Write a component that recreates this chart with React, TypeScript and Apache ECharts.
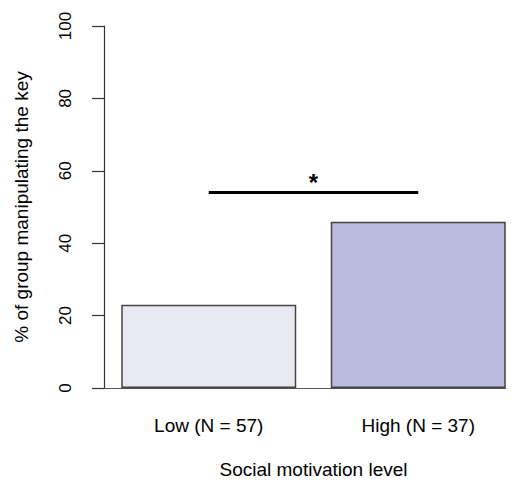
import React, { useEffect, useRef } from "react";
import * as echarts from "echarts";

const categories = ["Low (N = 57)", "High (N = 37)"];
const percentValues = [23, 45.9];
const barColors = ["#E8E8F5", "#BBBBDF"];
const yTicks = { min: 0, max: 100, interval: 20 };
const significanceLevel = 54.2;
const significanceLabel = "*";
const xTitle = "Social motivation level";
const yTitle = "% of group manipulating the key";

const FONT = "'Liberation Sans', Arial, Helvetica, sans-serif";

export default function App() {
  const ref = useRef<HTMLDivElement>(null);
  useEffect(() => {
    if (!ref.current) return;
    const chart = echarts.init(ref.current, null, { renderer: "svg" });
    chart.setOption({
      animation: false,
      backgroundColor: "#ffffff",
      grid: { left: 104, right: 0, top: 26, bottom: 96, containLabel: false },
      xAxis: {
        type: "category",
        data: categories,
        axisLine: { show: true, lineStyle: { color: "#555", width: 1.2 } },
        axisTick: { show: false },
        axisLabel: {
          interval: 0,
          margin: 28,
          fontSize: 19,
          color: "#000",
          fontFamily: FONT,
        },
        name: xTitle,
        nameLocation: "middle",
        nameGap: 72,
        nameTextStyle: { fontSize: 19, color: "#000", fontFamily: FONT },
      },
      yAxis: {
        type: "value",
        min: yTicks.min,
        max: yTicks.max,
        interval: yTicks.interval,
        splitLine: { show: false },
        axisLine: { show: true, lineStyle: { color: "#333", width: 1.2 } },
        axisTick: { show: true, length: 12, lineStyle: { color: "#333", width: 1.2 } },
        axisLabel: {
          rotate: 90,
          margin: 30,
          fontSize: 17,
          color: "#000",
          fontFamily: FONT,
        },
        name: yTitle,
        nameLocation: "middle",
        nameGap: 73,
        nameTextStyle: { fontSize: 19, color: "#000", fontFamily: FONT },
      },
      series: [
        {
          type: "bar",
          barWidth: 175,
          data: percentValues.map((v, i) => ({
            value: v,
            itemStyle: { color: barColors[i], borderColor: "#444", borderWidth: 1.5 },
          })),
          markLine: {
            silent: true,
            symbol: ["none", "none"],
            lineStyle: { color: "#000", width: 3, type: "solid" },
            label: {
              show: true,
              position: "middle",
              formatter: significanceLabel,
              fontSize: 24,
              fontWeight: "bold",
              color: "#000",
              fontFamily: FONT,
              distance: -3,
            },
            data: [
              [
                { coord: [0, significanceLevel] },
                { coord: [1, significanceLevel] },
              ],
            ],
          },
        },
      ],
    });
    return () => chart.dispose();
  }, []);
  return (
    <div style={{ width: 514, height: 484, margin: -8, overflow: "hidden", position: "relative" }}>
      <div ref={ref} style={{ width: 523, height: 484 }} />
    </div>
  );
}
